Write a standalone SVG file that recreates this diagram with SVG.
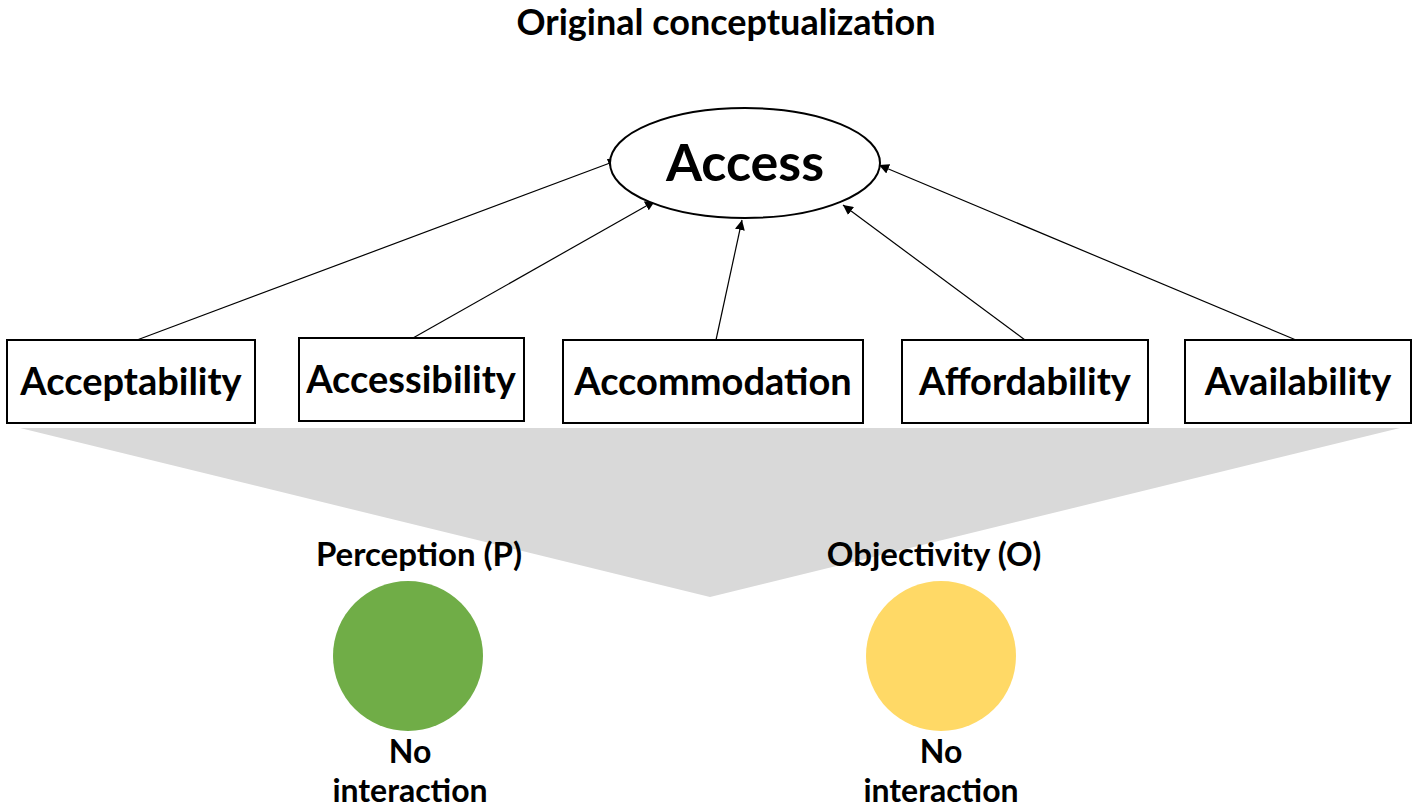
<svg xmlns="http://www.w3.org/2000/svg" width="1418" height="811" viewBox="0 0 1418 811">
<style>
text{font-family:Lato,"Open Sans","Liberation Sans",sans-serif;font-weight:bold;fill:#000;text-anchor:middle}
.box{fill:#fff;stroke:#000;stroke-width:2}
.lbl{font-size:38px}
.sub{font-size:33px}
.ni{font-size:32px}
.conn{stroke:#000;stroke-width:1.2;fill:none;marker-end:url(#ah)}
</style>
<defs>
<marker id="ah" viewBox="0 0 10 10" refX="10" refY="5" markerWidth="10" markerHeight="10" markerUnits="userSpaceOnUse" orient="auto">
<path d="M0,0 L10,5 L0,10 z" fill="#000"/>
</marker>
</defs>
<rect width="1418" height="811" fill="#fff"/>
<text x="726" y="35" font-size="36">Original conceptualization</text>
<polygon id="funnel" points="20,428 1400,428 710,597" fill="#d9d9d9"/>
<g id="connectors">
<line class="conn" x1="137" y1="340" x2="618" y2="160"/>
<line class="conn" x1="413" y1="338" x2="655" y2="201"/>
<line class="conn" x1="716" y1="340" x2="742" y2="220"/>
<line class="conn" x1="1025" y1="340" x2="843" y2="205"/>
<line class="conn" x1="1296" y1="340" x2="879" y2="165"/>
</g>
<g id="access">
<ellipse cx="745" cy="163" rx="135" ry="55" fill="#fff" stroke="#000" stroke-width="2"/>
<text x="745" y="181" font-size="52">Access</text>
</g>
<g id="acceptability"><rect class="box" x="7" y="340" width="248" height="83"/><text class="lbl" x="131" y="395">Acceptability</text></g>
<g id="accessibility"><rect class="box" x="299" y="338" width="225" height="83"/><text class="lbl" x="411" y="393">Accessibility</text></g>
<g id="accommodation"><rect class="box" x="563" y="340" width="300" height="83"/><text class="lbl" x="713" y="395">Accommodation</text></g>
<g id="affordability"><rect class="box" x="902" y="340" width="246" height="83"/><text class="lbl" x="1025" y="395">Affordability</text></g>
<g id="availability"><rect class="box" x="1185" y="340" width="226" height="83"/><text class="lbl" x="1298" y="395">Availability</text></g>
<g id="perception">
<text class="sub" x="419" y="566">Perception (P)</text>
<circle cx="408" cy="656" r="75" fill="#70ad47"/>
<text class="ni" x="410" y="763">No</text>
<text class="ni" x="410" y="802">interaction</text>
</g>
<g id="objectivity">
<text class="sub" x="934" y="566">Objectivity (O)</text>
<circle cx="941" cy="656" r="75" fill="#ffd966"/>
<text class="ni" x="941" y="763">No</text>
<text class="ni" x="941" y="802">interaction</text>
</g>
</svg>
